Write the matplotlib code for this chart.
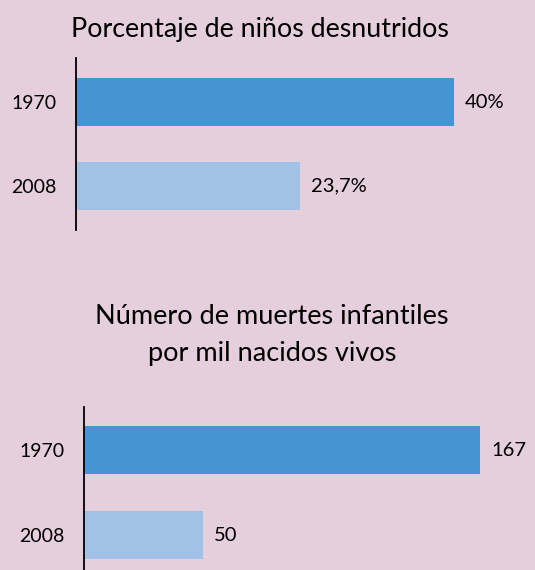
import matplotlib.pyplot as plt

# datos
years = ["1970", "2008"]
desnutridos = [40, 23.7]
desnutridos_labels = ["40%", "23,7%"]
muertes = [167, 50]
muertes_labels = ["167", "50"]

bg = "#E5CFDD"
bar_colors = ["#4694D1", "#A2C1E6"]

plt.rcParams['font.family'] = ['Lato', 'DejaVu Sans']

W, H = 535, 570
fig = plt.figure(figsize=(W / 100, H / 100), dpi=100, facecolor=bg)


def px_axes(left, top, right, bottom):
    """Crea ejes a partir de coordenadas en pixeles (origen arriba a la izquierda)"""
    return fig.add_axes([left / W, 1 - bottom / H, (right - left) / W, (bottom - top) / H])


def bar_panel(ax, values, labels, xmax, ylim):
    ax.set_facecolor(bg)
    ax.barh(range(len(values)), values, height=0.571, color=bar_colors)
    ax.set_xlim(0, xmax)
    ax.set_ylim(*ylim)
    ax.set_yticks(range(len(years)))
    ax.set_yticklabels(years, fontsize=14)
    ax.tick_params(axis='y', length=0, pad=14)
    ax.set_xticks([])
    for s in ['top', 'right', 'bottom']:
        ax.spines[s].set_visible(False)
    ax.spines['left'].set_linewidth(1.3)
    for i, (v, lab) in enumerate(zip(values, labels)):
        ax.annotate(lab, (v, i), xytext=(8, 0), textcoords='offset points',
                    va='center', ha='left', fontsize=14.5)


# panel superior
ax1 = px_axes(76, 58, 530, 230)
bar_panel(ax1, desnutridos, desnutridos_labels, 454 / 9.45, (1.524, -0.524))

# panel inferior
ax2 = px_axes(84, 407, 530, 570)
bar_panel(ax2, muertes, muertes_labels, 446 / 2.371, (1.41, -0.506))

fig.text(260 / W, 1 - 30 / H, "Porcentaje de niños desnutridos",
         ha='center', va='center', fontsize=19.3)
fig.text(272 / W, 1 - 335 / H, "Número de muertes infantiles\npor mil nacidos vivos",
         ha='center', va='center', fontsize=19.5, linespacing=1.55)

fig.savefig("out.png", dpi=100, facecolor=bg)
